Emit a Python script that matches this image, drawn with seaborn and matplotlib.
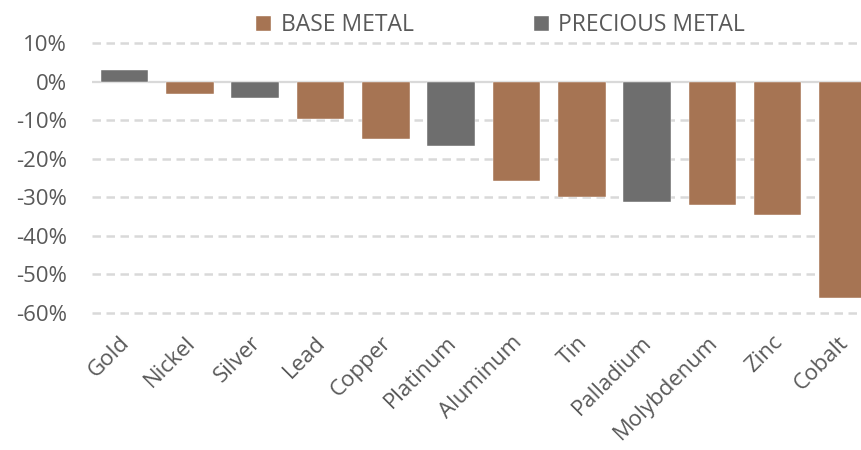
import matplotlib
matplotlib.use("Agg")
import matplotlib.pyplot as plt
import matplotlib.transforms as mtransforms
from matplotlib.patches import Patch
import seaborn as sns
import pandas as pd

metals = ["Gold", "Nickel", "Silver", "Lead", "Copper", "Platinum", "Aluminum",
          "Tin", "Palladium", "Molybdenum", "Zinc", "Cobalt"]
changes = [3.1, -3.1, -4.3, -9.8, -15.0, -16.6, -25.7, -30.0, -31.3, -32.1, -34.7, -56.0]
kinds = ["PRECIOUS METAL", "BASE METAL", "PRECIOUS METAL", "BASE METAL", "BASE METAL",
         "PRECIOUS METAL", "BASE METAL", "BASE METAL", "PRECIOUS METAL", "BASE METAL",
         "BASE METAL", "BASE METAL"]
legend_order = ["BASE METAL", "PRECIOUS METAL"]
yticks = [10, 0, -10, -20, -30, -40, -50, -60]

BROWN = "#A67453"
GRAY = "#6E6E6E"
TEXT = "#595959"
FS = 16

sns.set_theme(style="white")
plt.rcParams["font.family"] = ["Open Sans", "DejaVu Sans"]

df = pd.DataFrame({"metal": metals, "change": changes, "kind": kinds})

fig = plt.figure(figsize=(8.62, 4.5), dpi=100)
ax = fig.add_axes([92 / 862, (450 - 313) / 450, (12 * 65.3) / 862, 270 / 450])

sns.barplot(data=df, x="metal", y="change", hue="kind", order=metals,
            hue_order=legend_order, palette={"BASE METAL": BROWN, "PRECIOUS METAL": GRAY},
            dodge=False, width=0.73, ax=ax, legend=False, zorder=3, saturation=1,
            edgecolor="white", linewidth=0.3)

ax.set_xlim(-0.5, 11.5)
ax.set_ylim(-60, 10)
ax.set_yticks(yticks)
ax.set_yticklabels([f"{v}%" for v in yticks], color=TEXT, fontsize=FS)
for v in yticks:
    if v == 0:
        ax.axhline(0, color="#D9D9D9", lw=1.6, zorder=2)
    else:
        ax.axhline(v, color="#D9D9D9", lw=1.8, ls=(0, (3.4, 2.2)), zorder=1, clip_on=False)

ax.set_xlabel("")
ax.set_ylabel("")
ax.tick_params(axis="both", length=0)
ax.tick_params(axis="y", pad=18)
ax.tick_params(axis="x", pad=19)
for s in ax.spines.values():
    s.set_visible(False)

offset = mtransforms.ScaledTranslation(2 / 100, 0, fig.dpi_scale_trans)
for lbl in ax.get_xticklabels():
    lbl.set_rotation(45)
    lbl.set_ha("right")
    lbl.set_va("center")
    lbl.set_rotation_mode("anchor")
    lbl.set_color(TEXT)
    lbl.set_fontsize(FS)
    lbl.set_transform(lbl.get_transform() + offset)

handles = [Patch(facecolor=BROWN, label="BASE METAL"), Patch(facecolor=GRAY, label="PRECIOUS METAL")]
leg = fig.legend(handles=handles, loc="center", bbox_to_anchor=(500 / 862, 1 - 25 / 450),
                 ncol=2, frameon=False, fontsize=16.5, handlelength=0.7, handleheight=0.7,
                 handletextpad=0.4, columnspacing=5.2, labelcolor=TEXT)

fig.savefig("out.png", dpi=100)
